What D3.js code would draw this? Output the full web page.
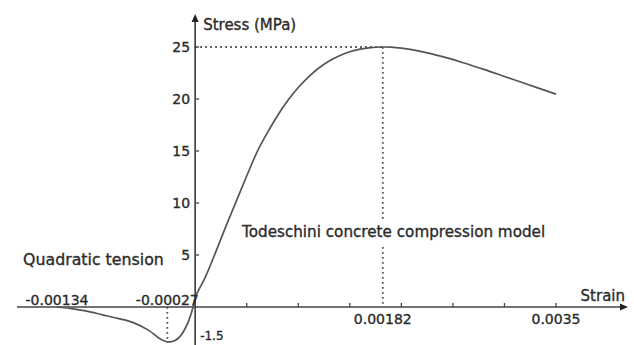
<!DOCTYPE html>
<html>
<head>
<meta charset="utf-8">
<script src="https://cdn.jsdelivr.net/npm/d3@7"></script>
<style>
  body { margin: 0; background: #fff; }
  svg text { font-family: "DejaVu Sans", sans-serif; fill: #2b2b2b; stroke: #2b2b2b; stroke-width: 0.35; }
</style>
</head>
<body>
<svg id="chart"></svg>
<script>
// tension branch (quadratic tension)
const tensionStrain = [-0.00134, -0.0012, -0.00105, -0.0009, -0.00075, -0.0006, -0.00045, -0.00035, -0.00027, -0.0002, -0.00014, -0.00007, -0.00002];
const tensionStress = [0, -0.15, -0.4, -0.75, -1.1, -1.5, -2.25, -3.0, -3.35, -3.25, -2.75, -1.5, 0];

// compression branch (Todeschini)
const compStrain = [0, 0.0001, 0.0002, 0.0003, 0.0004, 0.0005, 0.0006, 0.0007, 0.0008, 0.0009, 0.0010,
    0.0011, 0.0012, 0.0013, 0.0014, 0.0015, 0.0016, 0.0017, 0.00182, 0.0019, 0.0020, 0.0022, 0.0024,
    0.0026, 0.0028, 0.0030, 0.0032, 0.0035];
const compStress = [0.9, 2.9, 5.3, 7.8, 10.2, 12.6, 14.9, 16.75, 18.42, 19.87, 21.10,
    22.13, 22.98, 23.65, 24.16, 24.54, 24.79, 24.94, 25.0, 24.98, 24.89, 24.56, 24.07,
    23.49, 22.85, 22.17, 21.49, 20.47];

const yTicks = [5, 10, 15, 20, 25];
const xMinorTicks = [0.0005, 0.001, 0.0015, 0.002, 0.0025, 0.003, 0.0035];
const xLabelsAbove = [-0.00134, -0.00027];
const xLabelsBelow = [0.00182, 0.0035];
const peakStrain = 0.00182, peakStress = 25;
const tensionPeakStrain = -0.00027, tensionPeakStress = -3.35;
const bottomLabel = "-1.5";

const width = 634, height = 345;
const svg = d3.select("#chart").attr("width", width).attr("height", height);

const x = d3.scaleLinear().domain([-0.00134, 0.0035]).range([57, 556]);
const y = d3.scaleLinear().domain([0, 25]).range([307, 47]);

const x0 = x(0), y0 = y(0);
const axisColor = "#444";
const dotStyle = g => g.attr("stroke", "#555").attr("stroke-width", 1.8).attr("stroke-dasharray", "1.8,3.2").attr("fill", "none");

// dotted guides
svg.append("line").attr("x1", x0).attr("x2", x(peakStrain)).attr("y1", y(peakStress)).attr("y2", y(peakStress)).call(dotStyle);
svg.append("line").attr("x1", x(peakStrain)).attr("x2", x(peakStrain)).attr("y1", y(peakStress)).attr("y2", y0).call(dotStyle);
svg.append("line").attr("x1", x(tensionPeakStrain)).attr("x2", x(tensionPeakStrain)).attr("y1", y0).attr("y2", y(tensionPeakStress)).call(dotStyle);

// axes
svg.append("line").attr("x1", 17).attr("x2", 622).attr("y1", y0).attr("y2", y0)
    .attr("stroke", axisColor).attr("stroke-width", 1.7);
svg.append("path").attr("d", `M628,${y0} L620,${y0 - 3.5} L620,${y0 + 3.5} Z`).attr("fill", "#222");
svg.append("line").attr("x1", x0).attr("x2", x0).attr("y1", 345).attr("y2", 21)
    .attr("stroke", axisColor).attr("stroke-width", 1.7);
svg.append("path").attr("d", `M${x0},14 L${x0 - 3.5},22 L${x0 + 3.5},22 Z`).attr("fill", "#222");

// ticks
svg.selectAll(".xtick").data(xMinorTicks).enter().append("line")
    .attr("x1", d => x(d)).attr("x2", d => x(d)).attr("y1", y0).attr("y2", y0 - 4)
    .attr("stroke", axisColor).attr("stroke-width", 1.3);
svg.selectAll(".ytick").data(yTicks).enter().append("line")
    .attr("x1", x0).attr("x2", x0 + 4).attr("y1", d => y(d)).attr("y2", d => y(d))
    .attr("stroke", axisColor).attr("stroke-width", 1.3);

// curve
const line = d3.line().x(d => x(d[0])).y(d => y(d[1])).curve(d3.curveCatmullRom.alpha(0.5));
const tensionPts = tensionStrain.map((s, i) => [s, tensionStress[i]]);
const compPts = compStrain.map((s, i) => [s, compStress[i]]);
svg.append("path").attr("d", line(tensionPts.concat(compPts)))
    .attr("fill", "none").attr("stroke", "#555").attr("stroke-width", 1.7);

// tick labels
svg.selectAll(".ylab").data(yTicks).enter().append("text")
    .attr("x", x0 - 5).attr("y", d => y(d)).attr("dy", "0.36em")
    .attr("text-anchor", "end").attr("font-size", 14).text(d => d);
svg.selectAll(".xlabA").data(xLabelsAbove).enter().append("text")
    .attr("x", d => x(d)).attr("y", y0 - 2).attr("text-anchor", "middle").attr("font-size", 14)
    .text(d => d.toFixed(5));
svg.selectAll(".xlabB").data(xLabelsBelow).enter().append("text")
    .attr("x", d => x(d)).attr("y", y0 + 17).attr("text-anchor", "middle").attr("font-size", 14)
    .text(d => String(d));
svg.append("text").attr("x", x0 + 5).attr("y", 340).attr("font-size", 12).text(bottomLabel);

// axis titles
svg.append("text").attr("x", x0 + 8).attr("y", 30).attr("font-size", 15).text("Stress (MPa)");
svg.append("text").attr("x", 625).attr("y", 301).attr("text-anchor", "end").attr("font-size", 15).text("Strain");

// annotations
const note = svg.append("g");
note.append("rect").attr("x", 238).attr("y", 219).attr("width", 316).attr("height", 26).attr("fill", "#fff");
note.append("text").attr("x", 242).attr("y", 237).attr("font-size", 15.2).text("Todeschini concrete compression model");
svg.append("text").attr("x", 23).attr("y", 265).attr("font-size", 15.8).text("Quadratic tension");
</script>
</body>
</html>
